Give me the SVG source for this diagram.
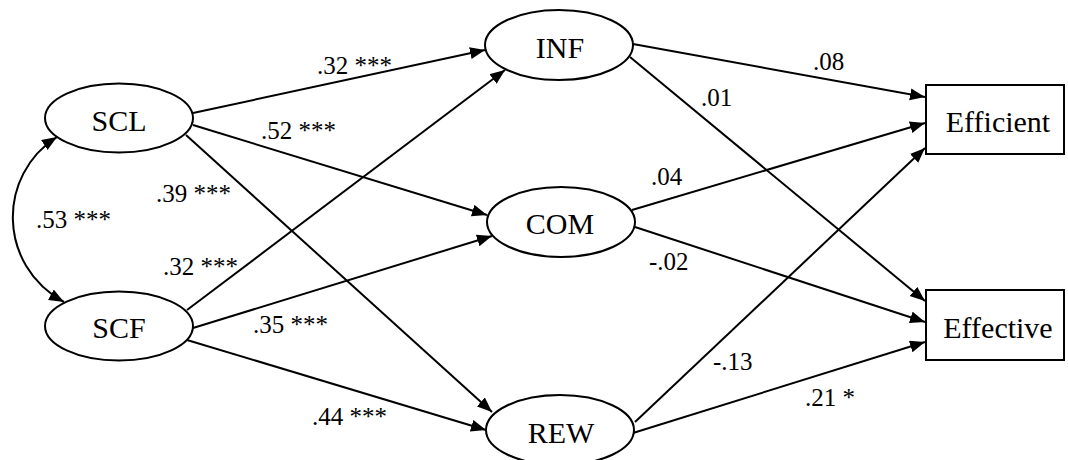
<svg xmlns="http://www.w3.org/2000/svg" width="1068" height="460" viewBox="0 0 1068 460">
<style>
.node{fill:#fff;stroke:#000;stroke-width:2}
.nt{font-family:"Liberation Serif","Times New Roman",Times,serif;font-size:30px;text-anchor:middle;fill:#000}
.lb{font-family:"Liberation Serif","Times New Roman",Times,serif;font-size:25px;fill:#000}
.edge{fill:none;stroke:#000;stroke-width:2}
</style>
<defs>
<marker id="arr" markerUnits="userSpaceOnUse" markerWidth="16" markerHeight="13" refX="15" refY="6" orient="auto-start-reverse">
<path d="M0,0 L15,6 L0,12 z" fill="#000"/>
</marker>
</defs>
<rect width="1068" height="460" fill="#fff"/>
<g id="connectors">
<path class="edge" d="M57,137 C-3,175 -3,265 64,302" marker-start="url(#arr)" marker-end="url(#arr)"/>
<line class="edge" x1="193" y1="113" x2="485" y2="50" marker-end="url(#arr)"/>
<line class="edge" x1="193" y1="125" x2="487" y2="215" marker-end="url(#arr)"/>
<line class="edge" x1="186" y1="135" x2="492" y2="412" marker-end="url(#arr)"/>
<line class="edge" x1="187" y1="310" x2="505" y2="70" marker-end="url(#arr)"/>
<line class="edge" x1="193" y1="328" x2="492" y2="236" marker-end="url(#arr)"/>
<line class="edge" x1="187" y1="340" x2="486" y2="430" marker-end="url(#arr)"/>
<line class="edge" x1="633" y1="44" x2="925" y2="97" marker-end="url(#arr)"/>
<line class="edge" x1="630" y1="57" x2="925" y2="301" marker-end="url(#arr)"/>
<line class="edge" x1="632" y1="210" x2="925" y2="123" marker-end="url(#arr)"/>
<line class="edge" x1="635" y1="227" x2="925" y2="322" marker-end="url(#arr)"/>
<line class="edge" x1="635" y1="422" x2="925" y2="148" marker-end="url(#arr)"/>
<line class="edge" x1="633" y1="433" x2="925" y2="342" marker-end="url(#arr)"/>
</g>
<g id="labels">
<text class="lb" x="317" y="74">.32 ***</text>
<text class="lb" x="261" y="139">.52 ***</text>
<text class="lb" x="156" y="202">.39 ***</text>
<text class="lb" x="36" y="228">.53 ***</text>
<text class="lb" x="163" y="275">.32 ***</text>
<text class="lb" x="253" y="333">.35 ***</text>
<text class="lb" x="312" y="425">.44 ***</text>
<text class="lb" x="813" y="70">.08</text>
<text class="lb" x="701" y="106">.01</text>
<text class="lb" x="651" y="185">.04</text>
<text class="lb" x="649" y="270">-.02</text>
<text class="lb" x="713" y="370">-.13</text>
<text class="lb" x="805" y="406">.21 *</text>
</g>
<g id="SCL"><ellipse class="node" cx="119" cy="118" rx="74" ry="34.5"/><text class="nt" x="119" y="131">SCL</text></g>
<g id="SCF"><ellipse class="node" cx="119" cy="326" rx="74" ry="34.5"/><text class="nt" x="119" y="338">SCF</text></g>
<g id="INF"><ellipse class="node" cx="559" cy="45" rx="74" ry="35"/><text class="nt" x="560" y="58">INF</text></g>
<g id="COM"><ellipse class="node" cx="561" cy="222" rx="74" ry="35"/><text class="nt" x="560" y="234">COM</text></g>
<g id="REW"><ellipse class="node" cx="560" cy="430" rx="74" ry="35"/><text class="nt" x="561" y="443">REW</text></g>
<g id="Efficient"><rect class="node" x="926" y="85" width="138" height="69"/><text class="nt" x="998" y="132">Efficient</text></g>
<g id="Effective"><rect class="node" x="926" y="290" width="138" height="70"/><text class="nt" x="998" y="338">Effective</text></g>
</svg>
